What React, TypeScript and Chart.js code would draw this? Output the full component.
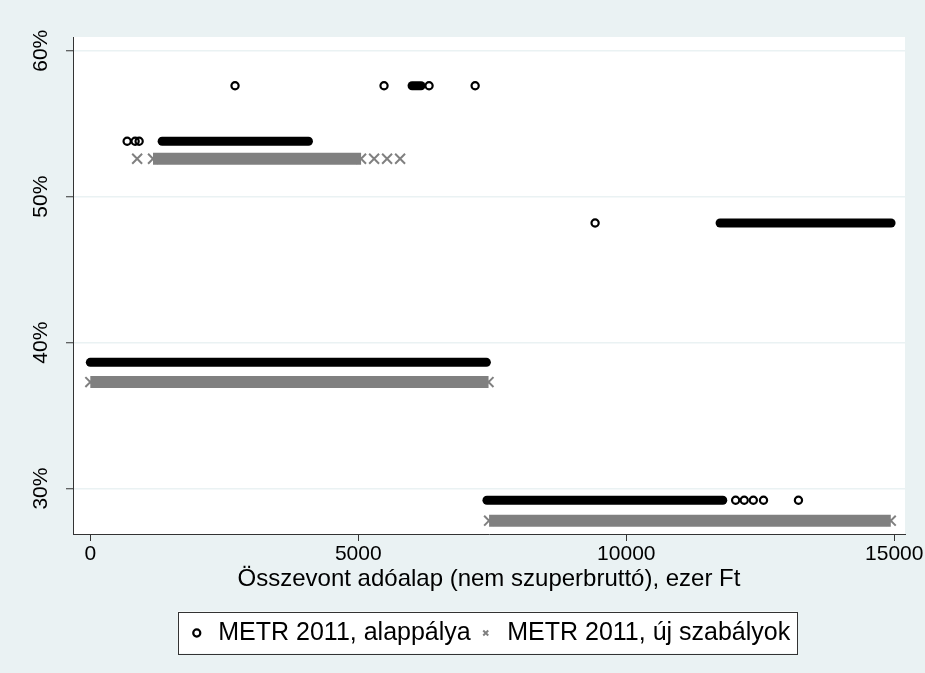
import { useEffect, useRef } from "react";
import { Chart, registerables } from "chart.js";

Chart.register(...registerables);

const seriesNames = ["METR 2011, alappálya", "METR 2011, új szabályok"];
const xTitle = "Összevont adóalap (nem szuperbruttó), ezer Ft";
const xTickValues = [0, 5000, 10000, 15000];
const yTickValues = [30, 40, 50, 60];

// METR 2011, alappálya — isolated observations
const baseX = [2700, 5480, 6320, 7180, 687, 836, 911, 9418, 12040, 12200, 12370, 12560, 13212];
const baseY = [57.6, 57.6, 57.6, 57.6, 53.8, 53.8, 53.8, 48.2, 29.2, 29.2, 29.2, 29.2, 29.2];
// METR 2011, alappálya — dense runs of observations (from, to, rate)
const baseRunFrom = [6003, 1340, 11750, 0, 7400];
const baseRunTo = [6171, 4070, 14940, 7390, 11800];
const baseRunY = [57.6, 53.8, 48.2, 38.65, 29.2];

// METR 2011, új szabályok — isolated observations
const newX = [874, 5295, 5537, 5780];
const newY = [52.6, 52.6, 52.6, 52.6];
// METR 2011, új szabályok — dense runs
const newRunFrom = [1170, 0, 7440];
const newRunTo = [5052, 7430, 14935];
const newRunY = [52.6, 37.3, 27.8];

const BG = "#EAF2F3";
const BLACK = "#000000";
const GREY = "#808080";
const FONT = "'Liberation Sans', Arial, sans-serif";

export default function App() {
  const ref = useRef<HTMLCanvasElement | null>(null);

  useEffect(() => {
    if (!ref.current) return;

    const datasets: any[] = [
      {
        label: seriesNames[0],
        data: baseX.map((x, i) => ({ x, y: baseY[i] })),
        pointStyle: "circle",
        pointRadius: 3.6,
        borderWidth: 2.2,
        borderColor: BLACK,
        backgroundColor: "rgba(0,0,0,0)",
        showLine: false,
      },
      {
        label: seriesNames[1],
        data: newX.map((x, i) => ({ x, y: newY[i] })),
        pointStyle: "crossRot",
        pointRadius: 7,
        borderWidth: 2,
        borderColor: GREY,
        backgroundColor: GREY,
        showLine: false,
      },
    ];

    baseRunFrom.forEach((f, i) => {
      datasets.push({
        label: "_base" + i,
        data: [
          { x: f, y: baseRunY[i] },
          { x: baseRunTo[i], y: baseRunY[i] },
        ],
        showLine: true,
        borderColor: BLACK,
        borderWidth: 9,
        borderCapStyle: "round",
        pointRadius: 0,
      });
    });
    newRunFrom.forEach((f, i) => {
      datasets.push({
        label: "_new" + i,
        data: [
          { x: f, y: newRunY[i] },
          { x: newRunTo[i], y: newRunY[i] },
        ],
        showLine: true,
        borderColor: GREY,
        borderWidth: 12,
        borderCapStyle: "butt",
        pointStyle: "crossRot",
        pointRadius: 7,
        pointBorderWidth: 2,
        pointBorderColor: GREY,
        pointBackgroundColor: GREY,
      });
    });

    const bgPlugin = {
      id: "bgPlugin",
      beforeDraw(chart: any) {
        const { ctx, chartArea } = chart;
        ctx.save();
        ctx.fillStyle = BG;
        ctx.fillRect(0, 0, chart.width, chart.height);
        ctx.fillStyle = "#ffffff";
        ctx.fillRect(chartArea.left, chartArea.top, chartArea.right - chartArea.left, chartArea.bottom - chartArea.top);
        const lg = chart.legend;
        if (lg && lg.legendHitBoxes && lg.legendHitBoxes.length) {
          const hb = lg.legendHitBoxes;
          const l = Math.min(...hb.map((h: any) => h.left)) - 10;
          const r = Math.max(...hb.map((h: any) => h.left + h.width)) + 7;
          const t = hb[0].top - 9;
          const b = hb[0].top + hb[0].height + 8;
          ctx.fillStyle = "#ffffff";
          ctx.fillRect(l, t, r - l, b - t);
          ctx.strokeStyle = "#333333";
          ctx.lineWidth = 1;
          ctx.strokeRect(Math.round(l) + 0.5, Math.round(t) + 0.5, Math.round(r - l), Math.round(b - t));
        }
        ctx.restore();
      },
    };

    const chart = new Chart(ref.current, {
      type: "scatter",
      data: { datasets },
      options: {
        animation: false,
        responsive: false,
        maintainAspectRatio: false,
        devicePixelRatio: 1,
        layout: { padding: { top: 37, right: 20, bottom: 17.5, left: 0 } },
        plugins: {
          tooltip: { enabled: false },
          legend: {
            position: "bottom",
            fullSize: false,
            labels: {
              usePointStyle: true,
              boxWidth: 18,
              boxHeight: 5,
              padding: 6,
              color: BLACK,
              font: { family: FONT, size: 25 },
              filter: (item: any) => item.datasetIndex < 2,
            },
          },
        },
        scales: {
          x: {
            type: "linear",
            min: -323,
            max: 15200,
            afterBuildTicks: (s: any) => {
              s.ticks = xTickValues.map((v) => ({ value: v }));
            },
            afterFit: (s: any) => {
              s.height = 80.5;
              s.paddingLeft = 0;
              s.paddingRight = 0;
            },
            grid: {
              drawOnChartArea: false,
              drawTicks: true,
              tickLength: 7,
              tickColor: "#333333",
              tickWidth: 1,
            },
            border: { display: true, color: "#333333", width: 1 },
            ticks: {
              color: BLACK,
              padding: 1,
              maxRotation: 0,
              minRotation: 0,
              font: { family: FONT, size: 21 },
              callback: (v: any) => String(v),
            },
            title: {
              display: true,
              text: xTitle,
              color: BLACK,
              font: { family: FONT, size: 24 },
              padding: { top: 0, bottom: 21 },
            },
          },
          y: {
            type: "linear",
            min: 26.89,
            max: 60.94,
            afterBuildTicks: (s: any) => {
              s.ticks = yTickValues.map((v) => ({ value: v }));
            },
            afterFit: (s: any) => {
              s.width = 73;
              s.paddingTop = 0;
              s.paddingBottom = 0;
            },
            grid: {
              color: BG,
              lineWidth: 1.5,
              drawTicks: true,
              tickLength: 7,
              tickColor: "#333333",
              tickWidth: 1,
            },
            border: { display: true, color: "#333333", width: 1 },
            ticks: {
              color: BLACK,
              padding: 4,
              minRotation: 90,
              maxRotation: 90,
              crossAlign: "center",
              font: { family: FONT, size: 21 },
              callback: (v: any) => v + "%",
            },
          },
        },
      },
      plugins: [bgPlugin],
    });

    return () => chart.destroy();
  }, []);

  return (
    <div style={{ position: "fixed", left: 0, top: 0, width: 925, height: 673 }}>
      <canvas ref={ref} width={925} height={673} style={{ display: "block" }} />
    </div>
  );
}
